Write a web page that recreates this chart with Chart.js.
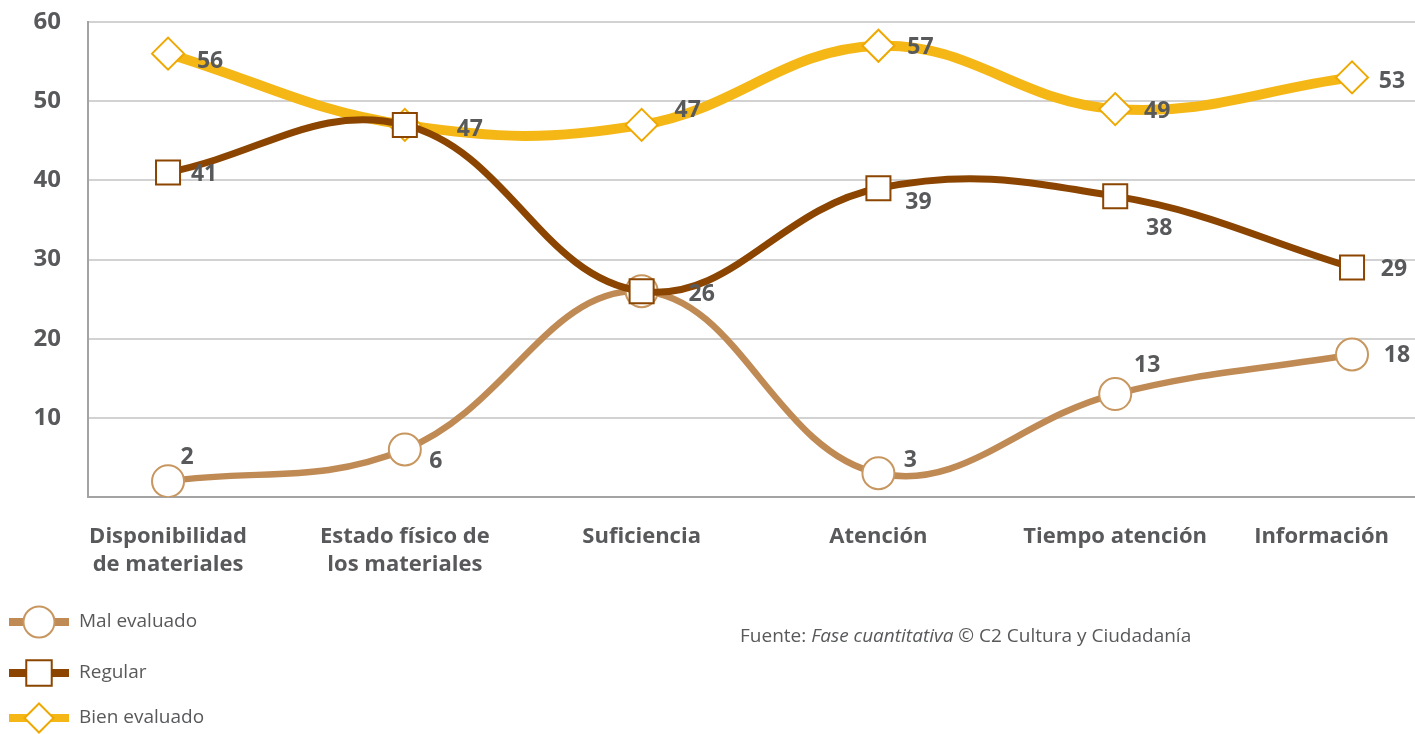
<!DOCTYPE html>
<html><head><meta charset="utf-8">
<script src="https://cdn.jsdelivr.net/npm/chart.js@4.4.1/dist/chart.umd.min.js"></script>
<style>html,body{margin:0;padding:0;background:#fff;overflow:hidden}#wrap{width:1415px;height:734px;position:relative}</style>
</head><body><div id="wrap"><canvas id="c" width="1415" height="734"></canvas></div>
<script>
const categories = [['Disponibilidad','de materiales'],['Estado físico de','los materiales'],'Suficiencia','Atención','Tiempo atención','Información'];
const yTickStep = 10;
const yMax = 60;
const seriesNames = ['Mal evaluado','Regular','Bien evaluado'];
const malEvaluado = [2, 6, 26, 3, 13, 18];
const regular = [41, 47, 26, 39, 38, 29];
const bienEvaluado = [56, 47, 47, 57, 49, 53];
// value labels shown (coincident values are labelled once)
const showMal = [true, true, false, true, true, true];
const showRegular = [true, false, true, true, true, true];
const showBien = [true, true, true, true, true, true];
const sourceParts = [['Fuente: ', false], ['Fase cuantitativa', true], [' © C2 Cultura y Ciudadanía', false]];

// styling (label offsets relative to each point)
const labelOffsets = [
  [[19,-24],[31,12],[0,0],[32,-13],[32,-29],[45,1]],
  [[36,2],[0,0],[60,3],[40,14],[44,32],[42,2]],
  [[42,8],[65,5],[46,-14],[42,2],[42,2],[40,4]]
];
const FONT = "'Open Sans', 'Noto Sans', sans-serif";
const GREY = '#58595b';
const CAT_FONT = "bold 22px " + FONT;
const CAT_RIGHT_MARGIN = 26;

const toXY = arr => arr.map((v,i)=>({x:i,y:v}));
const shows = [showMal, showRegular, showBien];

const datasets = [
  {label: seriesNames[0], data: toXY(malEvaluado), borderColor:'#c08a55', borderWidth:6.5,
   pointStyle:'circle', pointRadius:16, pointBorderColor:'#c8965f', pointBorderWidth:2, pointBackgroundColor:'#fff', order:3, tension:0.4},
  {label: seriesNames[1], data: toXY(regular), borderColor:'#8b4500', borderWidth:7,
   pointStyle:'rect', pointRadius:17, pointBorderColor:'#8b4500', pointBorderWidth:2, pointBackgroundColor:'#fff', order:1, tension:0.4},
  {label: seriesNames[2], data: toXY(bienEvaluado), borderColor:'#f4b716', borderWidth:10,
   pointStyle:'rectRot', pointRadius:16, pointBorderColor:'#efa800', pointBorderWidth:2, pointBackgroundColor:'#fff', order:2, tension:0.4}
];

const categoryLabels = {
  id:'categoryLabels',
  afterDraw(chart){
    const ctx = chart.ctx, xs = chart.scales.x;
    ctx.save();
    ctx.font = CAT_FONT;
    ctx.fillStyle = GREY;
    ctx.textAlign = 'center';
    ctx.textBaseline = 'middle';
    const top = xs.top + 40;
    categories.forEach((c, i)=>{
      const lines = Array.isArray(c) ? c : [c];
      const w = Math.max(...lines.map(l => ctx.measureText(l).width));
      let x = xs.getPixelForValue(i);
      x = Math.min(x, chart.width - CAT_RIGHT_MARGIN - w / 2);
      lines.forEach((l, k) => ctx.fillText(l, x, top + k * 28));
    });
    ctx.restore();
  }
};

const valueLabels = {
  id:'valueLabels',
  afterDatasetsDraw(chart){
    const ctx = chart.ctx;
    ctx.save();
    ctx.font = "bold 23px " + FONT;
    ctx.fillStyle = GREY;
    ctx.textAlign = 'center';
    ctx.textBaseline = 'middle';
    chart.data.datasets.forEach((ds, di)=>{
      const meta = chart.getDatasetMeta(di);
      meta.data.forEach((pt, i)=>{
        if (!shows[di][i]) return;
        const off = labelOffsets[di][i];
        ctx.fillText(String(ds.data[i].y), pt.x + off[0], pt.y + off[1]);
      });
    });
    ctx.restore();
  }
};

const legendAndSource = {
  id:'legendAndSource',
  afterDraw(chart){
    const ctx = chart.ctx;
    ctx.save();
    const rows = [622, 673, 718];
    chart.data.datasets.forEach((ds, di)=>{
      const y = rows[di];
      ctx.strokeStyle = ds.borderColor;
      ctx.lineWidth = 8;
      ctx.beginPath(); ctx.moveTo(9, y); ctx.lineTo(69, y); ctx.stroke();
      ctx.fillStyle = '#fff';
      ctx.strokeStyle = ds.pointBorderColor;
      ctx.lineWidth = 2;
      const r = di===0 ? 15.5 : (di===1 ? 18 : 14.5);
      Chart.helpers.drawPoint(ctx, {pointStyle: ds.pointStyle, radius: r, rotation: 0, borderWidth: 2}, 39, y);
      ctx.fillStyle = GREY;
      ctx.font = "19px " + FONT;
      ctx.textAlign = 'left';
      ctx.textBaseline = 'middle';
      ctx.fillText(ds.label, 79, y);
    });
    let x = 740;
    sourceParts.forEach(([t, it])=>{
      ctx.font = (it ? 'italic ' : '') + "19px " + FONT;
      ctx.fillStyle = GREY;
      ctx.textAlign = 'left';
      ctx.textBaseline = 'middle';
      ctx.fillText(t, x, 637);
      x += ctx.measureText(t).width;
    });
    ctx.restore();
  }
};

new Chart(document.getElementById('c'), {
  type:'line',
  data:{datasets},
  options:{
    responsive:false, animation:false,
    layout:{autoPadding:false, padding:{top:22,left:0,right:0,bottom:0}},
    plugins:{legend:{display:false}, tooltip:{enabled:false}},
    scales:{
      x:{type:'linear', min:-0.338, max:5.266,
        afterBuildTicks: s => { s.ticks = categories.map((c,i)=>({value:i})); },
        afterFit: s => { s.height = 237; s.paddingLeft = 0; s.paddingRight = 0; },
        grid:{display:false, drawTicks:false},
        border:{display:true, color:'#a3a3a3', width:2},
        ticks:{display:false}
      },
      y:{min:0, max:yMax,
        afterFit: s => { s.width = 88; s.paddingTop = 0; s.paddingBottom = 0; },
        grid:{color: c => c.tick && c.tick.value === 0 ? 'rgba(0,0,0,0)' : '#d2d2d2', lineWidth:2, drawTicks:false},
        border:{display:true, color:'#a3a3a3', width:2},
        ticks:{stepSize:yTickStep, padding:27, color:GREY,
          font:{family:FONT, size:24, weight:'bold'},
          callback: v => v === 0 ? '' : v}
      }
    }
  },
  plugins:[valueLabels, categoryLabels, legendAndSource]
});
</script></body></html>
